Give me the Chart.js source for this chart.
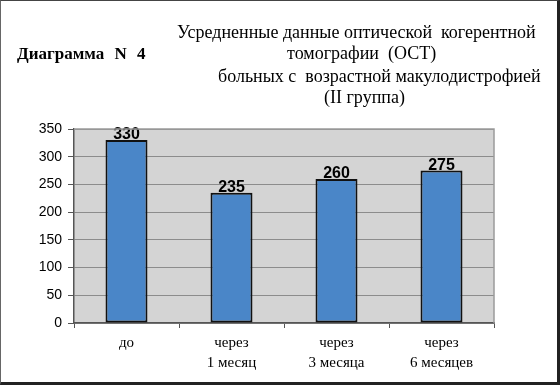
<!DOCTYPE html>
<html>
<head>
<meta charset="utf-8">
<script src="https://cdn.jsdelivr.net/npm/chart.js@4/dist/chart.umd.min.js"></script>
<style>
  html, body { margin: 0; padding: 0; background: #fff; }
  #wrap { position: relative; width: 560px; height: 385px; overflow: hidden; }
  #frame {
    position: absolute; left: 0; top: 0; width: 556px; height: 381px;
    border-left: 1px solid #666; border-top: 1px solid #444;
    border-right: 3px solid #222; border-bottom: 3px solid #222;
  }
  canvas { position: absolute; left: 0; top: 0; }
  .t { position: absolute; white-space: pre; font-family: "Liberation Serif", "Times New Roman", serif;
       font-size: 18px; line-height: 18px; color: #000; }
  #num { font-size: 17px; font-weight: bold; word-spacing: 6px; }
</style>
</head>
<body>
<div id="wrap">
  <div id="frame"></div>
  <canvas id="barChart" width="560" height="385"></canvas>
  <div class="t" id="num" style="left:17px; top:45px;">Диаграмма N 4</div>
  <div class="t" style="left:177px; top:23px;">Усредненные данные оптической  когерентной</div>
  <div class="t" style="left:287px; top:44px;">томографии  (ОСТ)</div>
  <div class="t" style="left:218px; top:67px;">больных с  возрастной макулодистрофией</div>
  <div class="t" style="left:324px; top:88px;">(II группа)</div>
</div>
<script>
// =============== D A T A ================================
const categories = [['до'], ['через', '1 месяц'], ['через', '3 месяца'], ['через', '6 месяцев']];
const octValues = [330, 235, 260, 275];
const yTickValues = [0, 50, 100, 150, 200, 250, 300, 350];

// plot background + right frame edge
const plotBg = {
  id: 'plotBg',
  beforeDraw(chart) {
    const { ctx, chartArea: a } = chart;
    ctx.save();
    ctx.fillStyle = '#d4d4d4';
    ctx.fillRect(a.left, a.top, a.right - a.left, a.bottom - a.top);
    ctx.restore();
  },
  afterDraw(chart) {
    const { ctx, chartArea: a } = chart;
    ctx.save();
    ctx.strokeStyle = '#9a9a9a';
    ctx.lineWidth = 1.5;
    ctx.beginPath();
    ctx.moveTo(a.left, a.top);
    ctx.lineTo(a.right, a.top);
    ctx.lineTo(a.right, a.bottom);
    ctx.stroke();
    ctx.restore();
  }
};

// value labels above bars
const valueLabels = {
  id: 'valueLabels',
  afterDatasetsDraw(chart) {
    const { ctx } = chart;
    const meta = chart.getDatasetMeta(0);
    ctx.save();
    ctx.font = 'bold 16px "Liberation Sans", Arial, sans-serif';
    ctx.fillStyle = '#000';
    ctx.textAlign = 'center';
    ctx.textBaseline = 'alphabetic';
    meta.data.forEach((bar, i) => {
      ctx.fillText(String(octValues[i]), bar.x, bar.y - 1);
    });
    ctx.restore();
  }
};

const barCtx = document.getElementById('barChart');

new Chart(barCtx, {
  type: 'bar',
  data: {
    labels: categories,
    datasets: [{
      data: octValues,
      backgroundColor: '#4a86c8',
      borderColor: '#111',
      borderWidth: 2,
      borderSkipped: false,
      barPercentage: 0.4,
      categoryPercentage: 1
    }]
  },
  options: {
    responsive: false,
    animation: false,
    events: [],
    layout: { padding: { left: 34, right: 66, top: 129, bottom: 7 } },
    plugins: {
      legend: { display: false },
      tooltip: { enabled: false }
    },
    scales: {
      x: {
        offset: true,
        afterFit(scale) { scale.height = 55; },
        grid: {
          offset: true,
          drawOnChartArea: false,
          drawTicks: true,
          tickLength: 5,
          color: '#555'
        },
        border: { display: true, color: '#555', width: 1.5 },
        ticks: {
          color: '#000',
          padding: 6,
          maxRotation: 0,
          autoSkip: false,
          font: { family: '"Liberation Serif", "Times New Roman", serif', size: 15, lineHeight: 1.27 }
        }
      },
      y: {
        min: 0,
        max: 350,
        afterFit(scale) { scale.width = 40; },
        afterBuildTicks(scale) { scale.ticks = yTickValues.map(v => ({ value: v })); },
        grid: {
          color: '#8c8c8c',
          tickColor: '#555',
          tickLength: 6
        },
        border: { display: true, color: '#555', width: 1.5 },
        ticks: {
          color: '#000',
          padding: 6,
          font: { family: '"Liberation Sans", Arial, sans-serif', size: 14 }
        }
      }
    }
  },
  plugins: [plotBg, valueLabels]
});
</script>
</body>
</html>
